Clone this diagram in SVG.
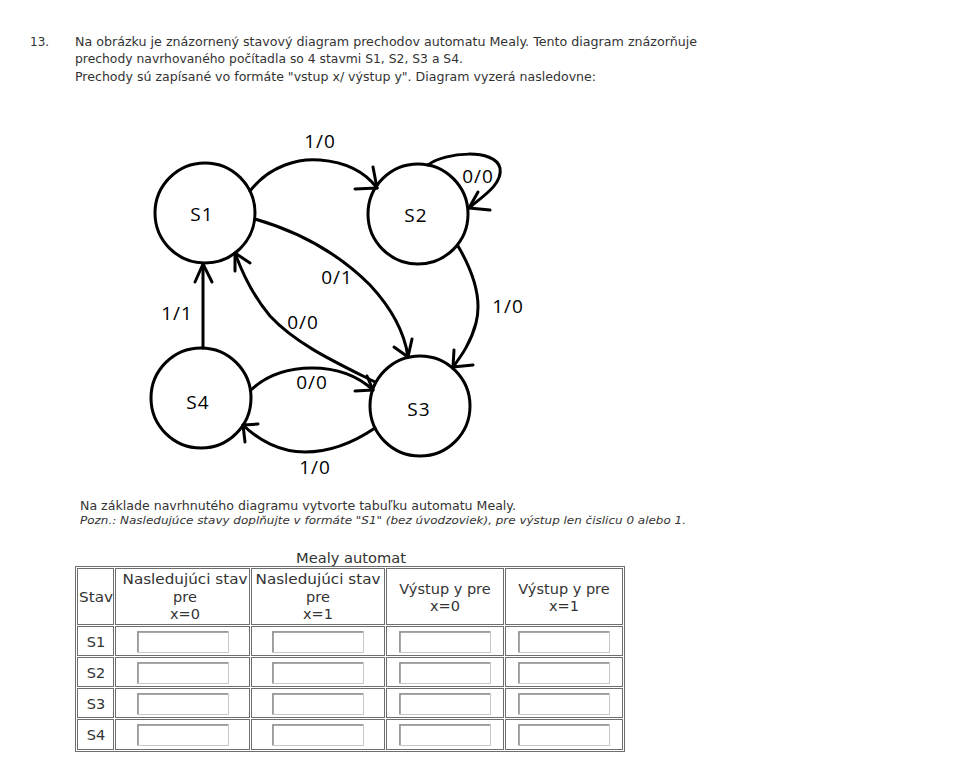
<svg xmlns="http://www.w3.org/2000/svg" width="955" height="765" viewBox="0 0 955 765">
<style>
.t{font-family:"DejaVu Sans",Verdana,sans-serif;font-size:12px;fill:#333}
.ti{font-family:"DejaVu Sans",Verdana,sans-serif;font-size:11px;fill:#333;font-style:italic}
.st{fill:none;stroke:#000;stroke-width:3}
.lb{font-family:"Open Sans","Liberation Sans",sans-serif;font-size:19px;fill:#000;text-anchor:middle;letter-spacing:1px}
.e{fill:none;stroke:#000;stroke-width:3;stroke-linecap:round;stroke-linejoin:round}
.th{font-family:"DejaVu Sans",Verdana,sans-serif;font-size:14.5px;fill:#333;text-anchor:middle}
.cell{fill:#fff;stroke:#6e6e6e;stroke-width:1}
.inp{fill:#fff;stroke:#c8c8c8;stroke-width:1}
.inpd{fill:none;stroke:#8c8c8c;stroke-width:1.5}
</style>
<rect width="955" height="765" fill="#fff"/>
<g id="intro">
<text class="t" x="30" y="46">13.</text>
<text class="t" x="75" y="46" textLength="622" lengthAdjust="spacingAndGlyphs">Na obrázku je znázornený stavový diagram prechodov automatu Mealy. Tento diagram znázorňuje</text>
<text class="t" x="75" y="63" textLength="388" lengthAdjust="spacingAndGlyphs">prechody navrhovaného počítadla so 4 stavmi S1, S2, S3 a S4.</text>
<text class="t" x="75" y="81" textLength="521" lengthAdjust="spacingAndGlyphs">Prechody sú zapísané vo formáte "vstup x/ výstup y". Diagram vyzerá nasledovne:</text>
</g>
<g id="connectors">
<path class="e" d="M250,191 C270,165 300,158 320,160 C345,162 365,172 377,188"/>
<path class="e" d="M355,189 L377,188 L373,167"/>
<path class="e" d="M428,165 C445,152 495,148 500,168 C503,185 480,198 469,208"/>
<path class="e" d="M490,210 L469,208 L478,192"/>
<path class="e" d="M255,219 C300,232 340,255 370,285 C395,312 405,335 408,357"/>
<path class="e" d="M394,347 L408,357 L412,339"/>
<path class="e" d="M375,382 C335,362 296,344 270,316 C254,297 243,275 235,253"/>
<path class="e" d="M235,271 L235,253 L250,263"/>
<path class="e" d="M203,348 L203,264"/>
<path class="e" d="M195,282 L203,264 L212,282"/>
<path class="e" d="M458,246 C475,275 482,300 476,323 C471,342 462,355 453,367"/>
<path class="e" d="M473,365 L453,367 L454,350"/>
<path class="e" d="M251,390 C270,372 295,368 312,368 C340,368 360,378 373,390"/>
<path class="e" d="M355,391 L373,390 L367,376"/>
<path class="e" d="M375,428 C350,445 325,452 305,452 C280,452 258,440 243,425"/>
<path class="e" d="M258,424 L243,425 L245,442"/>
<text class="lb" x="320" y="148">1/0</text>
<text class="lb" x="478" y="183">0/0</text>
<text class="lb" x="337" y="284">0/1</text>
<text class="lb" x="303" y="329">0/0</text>
<text class="lb" x="177" y="320">1/1</text>
<text class="lb" x="508" y="313">1/0</text>
<text class="lb" x="312" y="389">0/0</text>
<text class="lb" x="315" y="474">1/0</text>
</g>
<g id="S1"><circle class="st" cx="205" cy="213" r="50"/><text class="lb" x="202" y="221">S1</text></g>
<g id="S2"><circle class="st" cx="418" cy="214" r="50"/><text class="lb" x="416" y="222">S2</text></g>
<g id="S3"><circle class="st" cx="420" cy="406" r="50"/><text class="lb" x="419" y="416">S3</text></g>
<g id="S4"><circle class="st" cx="201" cy="398" r="50"/><text class="lb" x="198" y="409">S4</text></g>
<g id="instructions">
<text class="t" x="80" y="510" style="font-size:11.5px" textLength="436" lengthAdjust="spacingAndGlyphs">Na základe navrhnutého diagramu vytvorte tabuľku automatu Mealy.</text>
<text class="ti" x="80" y="524" textLength="606" lengthAdjust="spacingAndGlyphs">Pozn.: Nasledujúce stavy doplňujte v formáte "S1" (bez úvodzoviek), pre výstup len čislicu 0 alebo 1.</text>
</g>
<g id="table">
<text class="th" x="351" y="563" textLength="110" lengthAdjust="spacingAndGlyphs">Mealy automat</text>
<rect x="75.5" y="566.5" width="549" height="185" fill="#fff" stroke="#6e6e6e"/>
<rect class="cell" x="77.5" y="568.5" width="36" height="56"/>
<rect class="cell" x="115.5" y="568.5" width="134" height="56"/>
<rect class="cell" x="251.5" y="568.5" width="133" height="56"/>
<rect class="cell" x="386.5" y="568.5" width="117" height="56"/>
<rect class="cell" x="505.5" y="568.5" width="117" height="56"/>
<text class="th" x="96" y="602" textLength="34" lengthAdjust="spacingAndGlyphs">Stav</text>
<text class="th" x="185" y="584" textLength="125" lengthAdjust="spacingAndGlyphs">Nasledujúci stav</text>
<text class="th" x="185" y="602">pre</text>
<text class="th" x="185" y="619">x=0</text>
<text class="th" x="318" y="584" textLength="125" lengthAdjust="spacingAndGlyphs">Nasledujúci stav</text>
<text class="th" x="318" y="602">pre</text>
<text class="th" x="318" y="619">x=1</text>
<text class="th" x="445" y="594">Výstup y pre</text>
<text class="th" x="445" y="611">x=0</text>
<text class="th" x="564" y="594">Výstup y pre</text>
<text class="th" x="564" y="611">x=1</text>
<g id="row-S1">
<rect class="cell" x="77.5" y="626.5" width="36" height="29"/><rect class="cell" x="115.5" y="626.5" width="134" height="29"/><rect class="cell" x="251.5" y="626.5" width="133" height="29"/><rect class="cell" x="386.5" y="626.5" width="117" height="29"/><rect class="cell" x="505.5" y="626.5" width="117" height="29"/>
<text class="th" x="96" y="647">S1</text>
<rect class="inp" x="137.5" y="631.5" width="91" height="21"/><rect class="inp" x="272.5" y="631.5" width="91" height="21"/><rect class="inp" x="399.5" y="631.5" width="91" height="21"/><rect class="inp" x="518.5" y="631.5" width="91" height="21"/>
</g>
<g id="row-S2">
<rect class="cell" x="77.5" y="657.5" width="36" height="29"/><rect class="cell" x="115.5" y="657.5" width="134" height="29"/><rect class="cell" x="251.5" y="657.5" width="133" height="29"/><rect class="cell" x="386.5" y="657.5" width="117" height="29"/><rect class="cell" x="505.5" y="657.5" width="117" height="29"/>
<text class="th" x="96" y="678">S2</text>
<rect class="inp" x="137.5" y="662.5" width="91" height="21"/><rect class="inp" x="272.5" y="662.5" width="91" height="21"/><rect class="inp" x="399.5" y="662.5" width="91" height="21"/><rect class="inp" x="518.5" y="662.5" width="91" height="21"/>
</g>
<g id="row-S3">
<rect class="cell" x="77.5" y="688.5" width="36" height="29"/><rect class="cell" x="115.5" y="688.5" width="134" height="29"/><rect class="cell" x="251.5" y="688.5" width="133" height="29"/><rect class="cell" x="386.5" y="688.5" width="117" height="29"/><rect class="cell" x="505.5" y="688.5" width="117" height="29"/>
<text class="th" x="96" y="709">S3</text>
<rect class="inp" x="137.5" y="693.5" width="91" height="21"/><rect class="inp" x="272.5" y="693.5" width="91" height="21"/><rect class="inp" x="399.5" y="693.5" width="91" height="21"/><rect class="inp" x="518.5" y="693.5" width="91" height="21"/>
</g>
<g id="row-S4">
<rect class="cell" x="77.5" y="719.5" width="36" height="30"/><rect class="cell" x="115.5" y="719.5" width="134" height="30"/><rect class="cell" x="251.5" y="719.5" width="133" height="30"/><rect class="cell" x="386.5" y="719.5" width="117" height="30"/><rect class="cell" x="505.5" y="719.5" width="117" height="30"/>
<text class="th" x="96" y="740">S4</text>
<rect class="inp" x="137.5" y="724.5" width="91" height="21"/><rect class="inp" x="272.5" y="724.5" width="91" height="21"/><rect class="inp" x="399.5" y="724.5" width="91" height="21"/><rect class="inp" x="518.5" y="724.5" width="91" height="21"/>
</g>
<path class="inpd" d="M138,652 V632 H228 M273,652 V632 H363 M400,652 V632 H490 M519,652 V632 H609 M138,683 V663 H228 M273,683 V663 H363 M400,683 V663 H490 M519,683 V663 H609 M138,714 V694 H228 M273,714 V694 H363 M400,714 V694 H490 M519,714 V694 H609 M138,745 V725 H228 M273,745 V725 H363 M400,745 V725 H490 M519,745 V725 H609"/>
</g>
</svg>
